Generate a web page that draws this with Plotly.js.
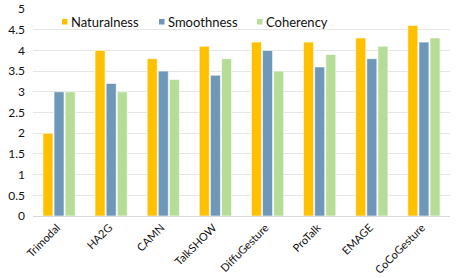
<!DOCTYPE html>
<html><head><meta charset="utf-8">
<script src="https://cdn.plot.ly/plotly-3.0.1.min.js"></script>
<style>html,body{margin:0;padding:0;background:#fff}#c{width:457px;height:278px}</style>
</head><body><div id="c"></div>
<script>
var categories = ["Trimodal","HA2G","CAMN","TalkSHOW","DiffuGesture","ProTalk","EMAGE","CoCoGesture"];
var seriesNames = ["Naturalness","Smoothness","Coherency"];
var naturalness = [2.0,4.0,3.8,4.1,4.2,4.2,4.3,4.6];
var smoothness  = [3.0,3.2,3.5,3.4,4.0,3.6,3.8,4.2];
var coherency   = [3.0,3.0,3.3,3.8,3.5,3.9,4.1,4.3];
var yTicks = [0,0.5,1,1.5,2,2.5,3,3.5,4,4.5,5];
var yTickText = ["0","0.5","1","1.5","2","2.5","3","3.5","4","4.5","5"];

var colors = ["#FFC000","#6F97B9","#B6DD98"];
var values = [naturalness, smoothness, coherency];
var data = values.map(function(v,i){
  return {type:"bar", name:seriesNames[i], x:categories, y:v, showlegend:false,
    marker:{color:colors[i], line:{color:"#ffffff", width:0.6}}};
});

// custom legend (paper coordinates): plot area spans x 33..450, y 9..216 px
var L = 33, W = 417, B = 216, H = 207;
function px(x){return (x-L)/W;}
function py(y){return (B-y)/H;}
var legX = [62, 159, 257];
var shapes = [], annotations = [];
seriesNames.forEach(function(n,i){
  shapes.push({type:"rect", xref:"paper", yref:"paper", x0:px(legX[i]), x1:px(legX[i]+5.5),
    y0:py(24.5), y1:py(19), fillcolor:colors[i], line:{width:0}});
  annotations.push({xref:"paper", yref:"paper", x:px(legX[i]+7), y:py(21.5), xanchor:"left", yanchor:"middle",
    text:n, showarrow:false, font:{size:13, color:"#111"}});
});

var layout = {
  width:457, height:278,
  margin:{l:33, r:7, t:9, b:62},
  paper_bgcolor:"#fff", plot_bgcolor:"#fff",
  font:{family:"Lato, sans-serif", size:12, color:"#111"},
  barmode:"group", bargap:0.36, bargroupgap:0.1,
  showlegend:false,
  shapes:shapes, annotations:annotations,
  xaxis:{tickangle:-45, showgrid:false, showline:true, linecolor:"#d9d9d9", linewidth:1,
    ticks:"", ticklabelshift:-2, tickfont:{size:11, color:"#111"}, automargin:false},
  yaxis:{range:[0,5], tickvals:yTicks, ticktext:yTickText, showgrid:true, gridcolor:"#e6e6e6",
    zeroline:false, showline:false, ticks:"", ticklabelstandoff:7, tickfont:{size:12, color:"#111"}, automargin:false}
};
Plotly.newPlot("c", data, layout, {displayModeBar:false, staticPlot:true});
</script></body></html>
